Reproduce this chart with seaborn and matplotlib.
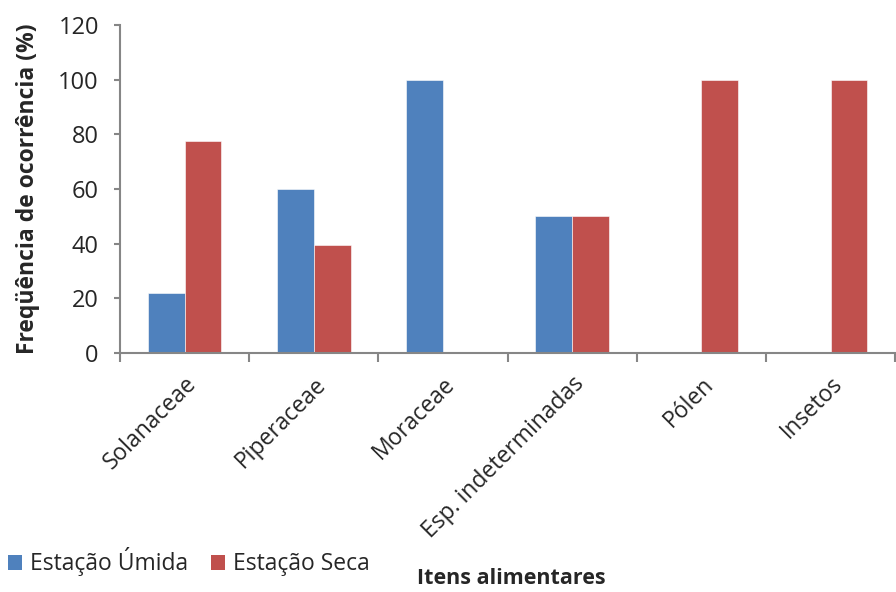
import matplotlib
matplotlib.use("Agg")
import matplotlib.pyplot as plt
from matplotlib.patches import Patch
import seaborn as sns
import pandas as pd
import numpy as np

categories = ["Solanaceae", "Piperaceae", "Moraceae", "Esp. indeterminadas", "Pólen", "Insetos"]
umida = [22, 60, 100, 50, 0, 0]
seca = [77.5, 39.5, 0, 50, 100, 100]
series_names = ["Estação Úmida", "Estação Seca"]
colors = ["#4F81BD", "#C0504D"]
yticks = [0, 20, 40, 60, 80, 100, 120]

df = pd.DataFrame({
    "categoria": categories * 2,
    "valor": umida + seca,
    "estacao": [series_names[0]] * len(categories) + [series_names[1]] * len(categories),
})

sns.set_style("white")
plt.rcParams["font.family"] = ["Open Sans", "DejaVu Sans"]

fig = plt.figure(figsize=(8.96, 5.92), dpi=100)
ax = fig.add_axes([0.134, 0.404, 0.865, 0.554])

sns.barplot(data=df, x="categoria", y="valor", hue="estacao", order=categories,
            hue_order=series_names, palette=colors, width=0.57, saturation=1,
            edgecolor="white", linewidth=0.4, legend=False, ax=ax)

axis_gray = "#868686"
ax.set_ylim(0, 120)
ax.set_xlim(-0.5, len(categories) - 0.5)
ax.set_yticks(yticks)
ax.set_yticklabels([str(v) for v in yticks], fontsize=17)
ax.set_xticks(range(len(categories)))
ax.set_xticklabels(categories, rotation=45, ha="right", va="top",
                   rotation_mode="anchor", fontsize=16.5)
ax.set_xticks(np.arange(-0.5, len(categories), 1.0), minor=True)
ax.tick_params(axis="x", which="major", bottom=False, length=0, pad=14)
ax.tick_params(axis="x", which="minor", bottom=True, length=6.5, width=1.5,
               color=axis_gray, direction="out")
ax.tick_params(axis="y", left=True, length=4.3, width=1.5, color=axis_gray,
               direction="out", pad=11)

for side in ["top", "right"]:
    ax.spines[side].set_visible(False)
for side in ["left", "bottom"]:
    ax.spines[side].set_color(axis_gray)
    ax.spines[side].set_linewidth(1.5)

ax.set_xlabel("")
ax.set_ylabel("Freqüência de ocorrência (%)", fontsize=16.5, fontweight="bold", labelpad=13)

fig.text(0.571, 0.005, "Itens alimentares", ha="center", va="bottom",
         fontsize=15.5, fontweight="bold")

handles = [Patch(facecolor=c, edgecolor="none") for c in colors]
fig.legend(handles, series_names, loc="lower left", bbox_to_anchor=(-0.006, 0.003),
           ncol=2, frameon=False, fontsize=16.5, handlelength=0.6, handleheight=0.6,
           handletextpad=0.35, columnspacing=1.0, borderaxespad=0.2)

fig.savefig("out.png", dpi=100)
